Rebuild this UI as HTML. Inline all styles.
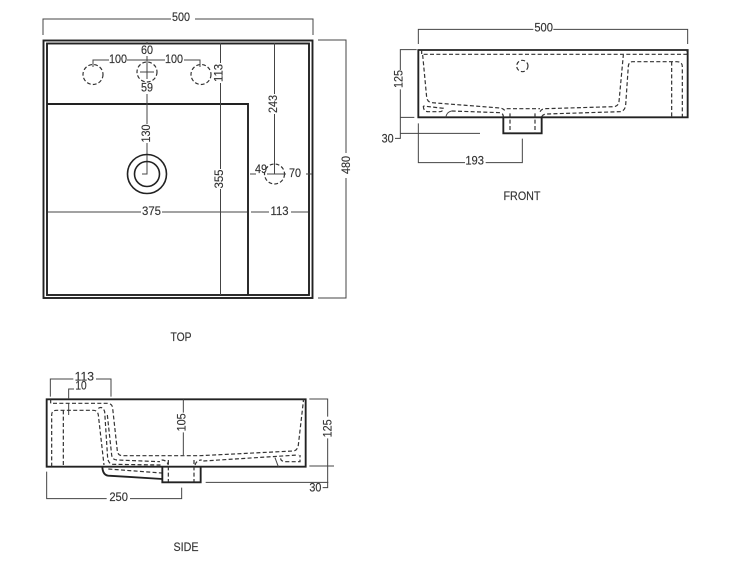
<!DOCTYPE html>
<html><head><meta charset="utf-8">
<style>
html,body{margin:0;padding:0;background:#fff;width:734px;height:574px;overflow:hidden}
svg{display:block;filter:blur(0.35px)}
text{font-family:"Liberation Sans",sans-serif;font-size:12px;fill:#333;text-anchor:middle;dominant-baseline:central;stroke:#333;stroke-width:.15px}
.d{fill:none;stroke:#444;stroke-width:1}
.h{fill:none;stroke:#333;stroke-width:1.2;stroke-dasharray:3.8 2.2}
.s{fill:none;stroke:#222;stroke-width:1.9}
.z .d{stroke-width:3}
.z .h{stroke-width:3.6;stroke-dasharray:12 7}
.z .s{stroke-width:5.6}
.z text{font-size:36px;stroke-width:.45px}
</style></head><body>
<svg width="734" height="574" viewBox="0 0 734 574" xmlns="http://www.w3.org/2000/svg">
<!-- TOP -->
<rect x="43.5" y="40.5" width="269" height="257.5" class="s"/>
<rect x="47" y="43.5" width="262" height="251.5" class="s"/>
<path class="s" d="M47 104H248V295"/>
<path class="d" d="M43 35V19H171M195 19H313V35"/>
<path class="d" d="M318 40H346V298H318M346 40V298"/>
<rect x="338" y="153" width="16" height="25" fill="#fff"/>
<text transform="translate(346,165) rotate(-90)" textLength="18" lengthAdjust="spacingAndGlyphs">480</text>
<text x="181" y="17" textLength="18" lengthAdjust="spacingAndGlyphs">500</text>
<circle class="h" cx="93" cy="74.5" r="10"/>
<circle class="h" cx="147" cy="72" r="10"/>
<circle class="h" cx="201" cy="74.5" r="10"/>
<path class="d" d="M93 67V60H109M127 60H165M184 60H200V67"/>
<path class="d" d="M147 42V44M147 56V79M147 94V124M147 143V174H142"/>
<path class="d" d="M140 72H154"/>
<text x="118" y="59" textLength="18" lengthAdjust="spacingAndGlyphs">100</text>
<text x="174" y="59" textLength="18" lengthAdjust="spacingAndGlyphs">100</text>
<text x="147" y="50" textLength="12" lengthAdjust="spacingAndGlyphs">60</text>
<text x="147" y="87.5" textLength="12" lengthAdjust="spacingAndGlyphs">59</text>
<text transform="translate(146,133.5) rotate(-90)" textLength="18" lengthAdjust="spacingAndGlyphs">130</text>
<circle cx="147" cy="174" r="19.5" fill="none" stroke="#222" stroke-width="1.6"/>
<circle cx="147" cy="174" r="12.5" fill="none" stroke="#222" stroke-width="1.6"/>
<path class="d" d="M220.5 43V63M220.5 83V169M220.5 189V295"/>
<text transform="translate(218.5,73) rotate(-90)" textLength="18" lengthAdjust="spacingAndGlyphs">113</text>
<text transform="translate(219,179) rotate(-90)" textLength="19" lengthAdjust="spacingAndGlyphs">355</text>
<path class="d" d="M274.5 43V94M274.5 114V174"/>
<text transform="translate(273,104) rotate(-90)" textLength="18" lengthAdjust="spacingAndGlyphs">243</text>
<circle class="h" cx="274.5" cy="174" r="10"/>
<path class="d" d="M250 174H256M267 174H286M306 174H312"/>
<text x="261" y="169" textLength="12" lengthAdjust="spacingAndGlyphs">49</text>
<text x="295" y="173" textLength="12" lengthAdjust="spacingAndGlyphs">70</text>
<path class="d" d="M48 212H141M162 212H247M251 212H269M291 212H308"/>
<text x="151.5" y="211" textLength="19" lengthAdjust="spacingAndGlyphs">375</text>
<text x="279.5" y="211" textLength="18" lengthAdjust="spacingAndGlyphs">113</text>
<text x="181" y="337" textLength="21" lengthAdjust="spacingAndGlyphs">TOP</text>
<text x="522" y="196" textLength="37" lengthAdjust="spacingAndGlyphs">FRONT</text>
<text x="186" y="547" textLength="25" lengthAdjust="spacingAndGlyphs">SIDE</text>

<!-- FRONT -->
<g class="z" transform="translate(375,10) scale(.33333)">
<path class="s" d="M130 120H938V322H385V370H500V322H130Z" fill="none"/>
<path class="d" d="M130 102V58H475M535 58H938V102"/>
<text x="506" y="52" textLength="56" lengthAdjust="spacingAndGlyphs">500</text>
<path class="d" d="M125 119H76V180M76 238V370M76 322H118M76 370H315M60 385H76V370"/>
<text transform="translate(70,207) rotate(-90)" textLength="54" lengthAdjust="spacingAndGlyphs">125</text>
<text x="38" y="386" textLength="36" lengthAdjust="spacingAndGlyphs">30</text>
<path class="d" d="M130 340V458H270M332 458H442V386"/>
<text x="299" y="452" textLength="56" lengthAdjust="spacingAndGlyphs">193</text>
<path class="h" d="M140 120V133H935V120"/>
<path class="h" d="M143 135L155 262Q157 276 170 278L375 294Q386 295 392 305"/>
<path class="h" d="M395 296H495"/>
<path class="h" d="M495 305Q500 296 510 296L718 290Q730 288 732 275L745 135"/>
<path class="h" d="M145 288Q145 305 160 305H195Q204 305 205 295L145 288"/>
<path class="d" d="M212 322Q216 305 230 303"/>
<path class="h" d="M230 303L375 308Q385 310 385 320"/>
<path class="h" d="M500 320Q505 312 515 312L735 305Q750 303 752 285L760 168Q762 155 772 155H905Q922 155 922 170V320"/>
<path class="h" d="M890 155V320"/>
<path class="h" d="M405 310V370M480 310V370"/>
<circle class="h" cx="442" cy="168" r="17"/>
</g>

<!-- SIDE -->
<g class="z" transform="translate(30,365) scale(.33333)">
<path class="s" d="M50 103H827V305H50Z" fill="none"/>
<path class="s" d="M397 305V352H512V305"/>
<path class="s" d="M217 305Q218 330 235 332L397 342"/>
<path class="d" d="M61 95V42H130M198 42H243V95"/>
<text x="163" y="34" textLength="58" lengthAdjust="spacingAndGlyphs">113</text>
<path class="d" d="M116 100V72H132"/>
<text x="153" y="62" textLength="34" lengthAdjust="spacingAndGlyphs">10</text>
<path class="d" d="M116 115V150"/>
<path class="d" d="M460 103V143M460 202V270"/>
<text transform="translate(455,172) rotate(-90)" textLength="54" lengthAdjust="spacingAndGlyphs">105</text>
<path class="d" d="M838 102H893V155M893 220V368H878M838 303H912M527 352H895"/>
<text transform="translate(893,190) rotate(-90)" textLength="54" lengthAdjust="spacingAndGlyphs">125</text>
<text x="856" y="368" textLength="36" lengthAdjust="spacingAndGlyphs">30</text>
<path class="d" d="M50 320V401H230M300 401H455V368"/>
<text x="266" y="396" textLength="56" lengthAdjust="spacingAndGlyphs">250</text>
<path class="h" d="M62 103V115H235Q247 117 248 130L262 258Q264 272 278 272H510L790 258Q803 256 805 240L820 110V103"/>
<path class="h" d="M395 285Q410 285 415 300M495 300Q500 285 515 285"/>
<path class="h" d="M65 305V150Q65 136 80 136H190Q203 136 205 150L222 300"/>
<path class="h" d="M100 136V305"/>
<path class="h" d="M205 130Q218 122 224 140L233 280Q236 298 250 298L395 300"/>
<path class="h" d="M232 150L245 270Q247 285 262 285L390 290"/>
<path class="h" d="M520 288L805 270"/>
<path class="h" d="M752 280Q752 290 770 290H810V270"/>
<path class="d" d="M735 278L745 305"/>
<path class="h" d="M415 285V350M492 285V350"/>
<path class="h" d="M235 312L395 324"/>
</g>
</svg>
</body></html>
